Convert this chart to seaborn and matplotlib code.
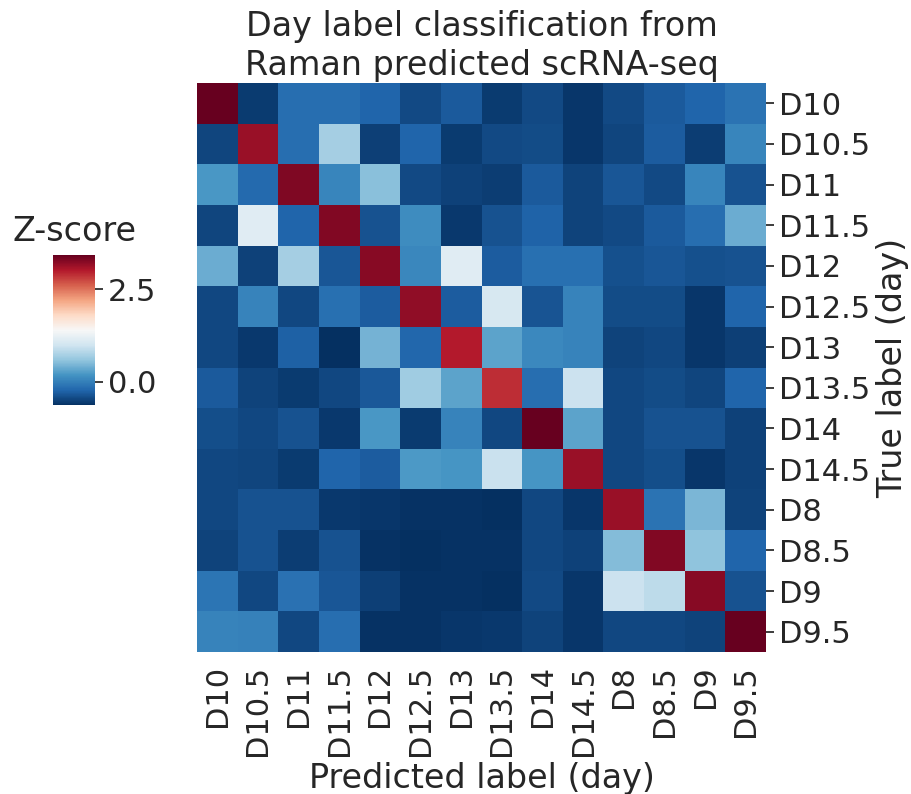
import numpy as np
import pandas as pd
import matplotlib
matplotlib.use("Agg")
import matplotlib.pyplot as plt
import seaborn as sns

labels = ["D10", "D10.5", "D11", "D11.5", "D12", "D12.5", "D13", "D13.5",
          "D14", "D14.5", "D8", "D8.5", "D9", "D9.5"]

row_D10   = [3.43, -0.57, -0.16, -0.17, -0.24, -0.45, -0.32, -0.57, -0.45, -0.60, -0.45, -0.33, -0.24, -0.12]
row_D10_5 = [-0.49, 3.15, -0.16, 0.70, -0.53, -0.24, -0.57, -0.45, -0.43, -0.60, -0.48, -0.30, -0.55, 0.05]
row_D11   = [0.21, -0.20, 3.30, 0.04, 0.53, -0.45, -0.52, -0.55, -0.32, -0.50, -0.36, -0.45, 0.04, -0.38]
row_D11_5 = [-0.48, 1.15, -0.24, 3.28, -0.38, 0.10, -0.58, -0.38, -0.26, -0.50, -0.45, -0.33, -0.17, 0.37]
row_D12   = [0.37, -0.52, 0.70, -0.35, 3.25, 0.06, 1.15, -0.30, -0.15, -0.15, -0.40, -0.36, -0.40, -0.38]
row_D12_5 = [-0.46, 0.02, -0.47, -0.15, -0.30, 3.20, -0.30, 1.05, -0.37, 0.02, -0.44, -0.44, -0.60, -0.24]
row_D13   = [-0.46, -0.58, -0.27, -0.65, 0.42, -0.23, 3.00, 0.30, 0.08, 0.03, -0.50, -0.47, -0.60, -0.53]
row_D13_5 = [-0.32, -0.50, -0.56, -0.46, -0.34, 0.66, 0.30, 2.90, -0.17, 0.95, -0.46, -0.44, -0.49, -0.24]
row_D14   = [-0.42, -0.46, -0.38, -0.58, 0.21, -0.56, 0.02, -0.46, 3.43, 0.30, -0.46, -0.39, -0.39, -0.52]
row_D14_5 = [-0.47, -0.49, -0.56, -0.24, -0.30, 0.22, 0.18, 0.93, 0.18, 3.15, -0.46, -0.42, -0.60, -0.52]
row_D8    = [-0.47, -0.39, -0.39, -0.58, -0.60, -0.63, -0.63, -0.65, -0.46, -0.60, 3.15, -0.12, 0.45, -0.50]
row_D8_5  = [-0.50, -0.39, -0.55, -0.39, -0.62, -0.65, -0.62, -0.62, -0.46, -0.51, 0.50, 3.28, 0.57, -0.24]
row_D9    = [-0.10, -0.46, -0.13, -0.36, -0.53, -0.62, -0.62, -0.65, -0.45, -0.60, 0.95, 0.85, 3.25, -0.38]
row_D9_5  = [0.02, 0.01, -0.46, -0.17, -0.63, -0.62, -0.60, -0.58, -0.50, -0.60, -0.46, -0.46, -0.50, 3.43]

rows = [row_D10, row_D10_5, row_D11, row_D11_5, row_D12, row_D12_5, row_D13,
        row_D13_5, row_D14, row_D14_5, row_D8, row_D8_5, row_D9, row_D9_5]
df = pd.DataFrame(rows, index=labels, columns=labels)

sns.set_theme(style="white", font_scale=2)

W, H = 911, 794
fig = plt.figure(figsize=(W / 100, H / 100), dpi=100)
ax = fig.add_axes([197 / W, 1 - 652 / H, 569 / W, 569 / H])
cax = fig.add_axes([53 / W, 1 - 405.5 / H, 42 / W, 150.5 / H])

sns.heatmap(df, cmap="RdBu_r", ax=ax, cbar_ax=cax)

ax.yaxis.tick_right()
ax.yaxis.set_label_position("right")
ax.set_yticklabels(labels, rotation=0)
ax.set_xticklabels(labels, rotation=90)
ax.set_xlabel("Predicted label (day)")
ax.set_ylabel("True label (day)")
ax.set_title("Day label classification from\nRaman predicted scRNA-seq")

cax.set_yticks([0.0, 2.5])
cax.set_yticklabels(["0.0", "2.5"])
cax.set_title("Z-score", pad=10)

fig.savefig("out.png", dpi=100)
